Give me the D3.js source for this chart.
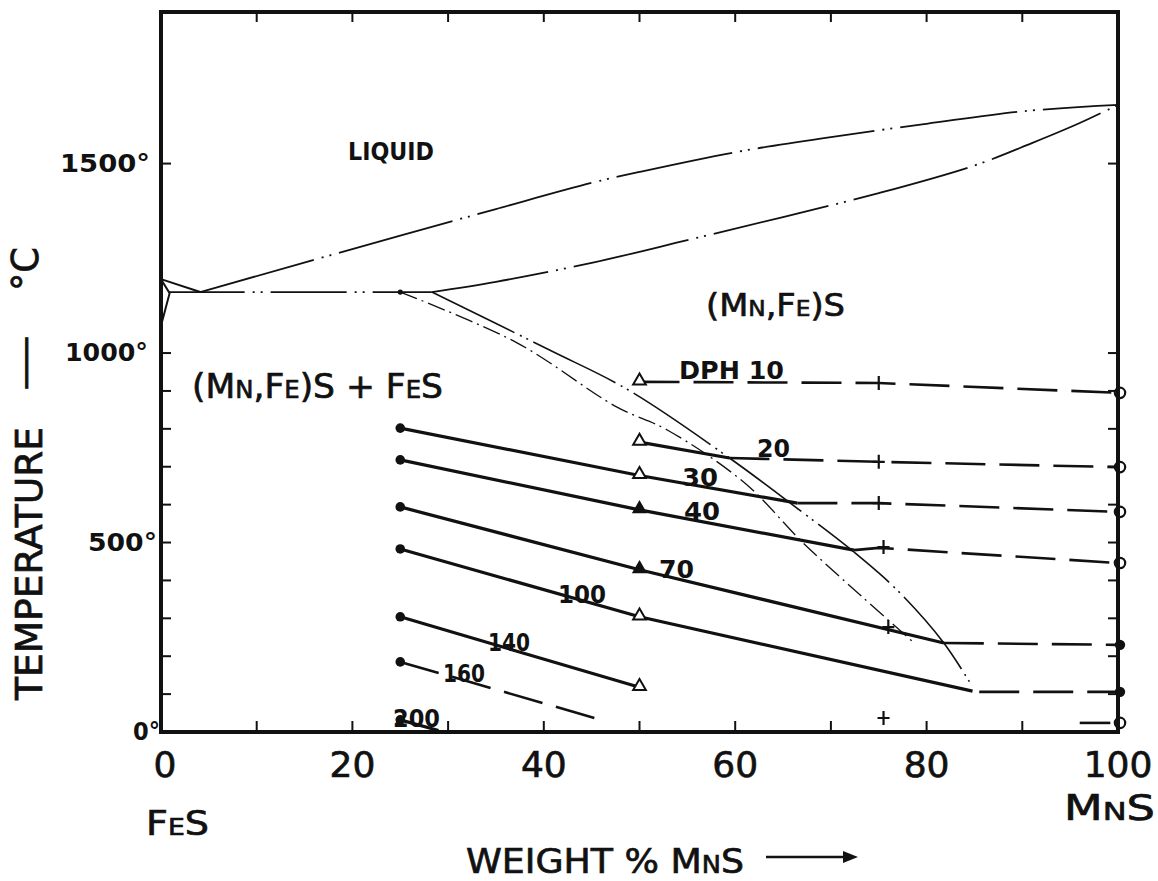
<!DOCTYPE html>
<html><head><meta charset="utf-8">
<script src="https://cdn.jsdelivr.net/npm/d3@7"></script>
<style>body{margin:0;background:#fff}svg{display:block}</style>
</head><body><svg id="c" width="1158" height="881"></svg>
<script>
// ---------- data (weight % MnS, temperature °C) ----------
const xTickLabels = [0, 20, 40, 60, 80, 100];
const xMinorTicks = [10, 20, 30, 40, 50, 60, 70, 80, 90];
const yTickLabels = [0, 500, 1000, 1500];
const yMinorTicks = [100, 200, 300, 400, 500, 600, 700, 800, 900, 1000, 1500];

const liquidusFeS = [[0, 1195], [4.1, 1161]];
const fesSolidus = [[0, 1195], [0.9, 1158], [0, 1072]];
const liquidus = [[4.1, 1161], [25, 1310], [35, 1380], [45, 1449], [50, 1478], [60, 1530], [70, 1570], [80, 1605], [90, 1638], [100, 1655]];
const solidus = [[28.3, 1161], [35, 1188], [45, 1238], [55, 1298], [65, 1359], [75, 1422], [85, 1495], [91, 1554], [96, 1607], [100, 1655]];
const eutectic = [[0.8, 1161], [28.3, 1161]];
const solvusOuter = [[28.3, 1161], [40.6, 1008], [48.8, 903], [59.4, 723], [66.7, 586], [72.4, 475], [76.9, 375], [81.8, 235], [84.8, 119]];
const solvusInner = [[25, 1161], [37.2, 1027], [47.6, 858], [52.9, 797], [61, 657], [67.1, 499], [73.3, 356], [78.7, 235]];

// hardness isolines (DPH)
const dphLabels = ["DPH 10", "20", "30", "40", "70", "100", "140", "160", "200"];
const solidIso = [
  [[50, 765], [59.4, 723]],                  // 20
  [[25, 802], [50, 677], [66.5, 604]],       // 30
  [[25, 718], [50, 586], [72.4, 480]],       // 40
  [[25, 594], [50, 428], [81.8, 235]],       // 70
  [[25, 483], [50, 304], [84.8, 108]],       // 100
  [[25, 304], [50, 118]],                    // 140
  [[25, 32], [29, 4]]                        // 200
];
const dashedIso = [
  [[50, 924], [75, 921], [100, 895]],        // 10
  [[59.4, 723], [75, 713], [100, 699]],      // 20
  [[66.5, 604], [75, 604], [100, 581]],      // 30
  [[72.4, 480], [75, 486], [100, 446]],      // 40
  [[81.8, 235], [100, 230]],                 // 70
  [[85.5, 106], [100, 106]],                 // 100
  [[25, 185], [45.3, 37]]                    // 160
];
const shortDash = [[96, 24], [99.2, 24]];
const dots25 = [802, 718, 594, 483, 304, 185, 32];
const triOpen50 = [924, 765, 677, 304, 118];
const triFilled50 = [586, 428];
const plusMarks = [[75, 921], [75, 713], [75, 604], [75.5, 488], [76, 277], [75.5, 37]];
const circOpen100 = [895, 699, 581, 446, 24];
const circFilled100 = [230, 106];

// ---------- drawing ----------
const svg = d3.select("#c");
svg.append("rect").attr("width", 1158).attr("height", 881).attr("fill", "#fff");
const x = d3.scaleLinear([0, 100], [161, 1118]);
const y = d3.scaleLinear([0, 1900], [732, 12]);
const lin = d3.line().x(d => x(d[0])).y(d => y(d[1]));
const smooth = d3.line().x(d => x(d[0])).y(d => y(d[1])).curve(d3.curveCatmullRom.alpha(0.5));
const g = svg.append("g").attr("fill", "none").attr("stroke", "#111");

const ddd = "118 8 2 6 2 8";
g.append("path").attr("d", lin(liquidusFeS)).attr("stroke-width", 2);
g.append("path").attr("d", lin(fesSolidus)).attr("stroke-width", 2);
g.append("path").attr("d", lin(eutectic)).attr("stroke-width", 1.8).attr("stroke-dasharray", "76 8 2 6 2 8");
g.append("path").attr("d", smooth(liquidus)).attr("stroke-width", 1.8).attr("stroke-dasharray", ddd);
g.append("path").attr("d", smooth(solidus)).attr("stroke-width", 1.8).attr("stroke-dasharray", ddd);
g.append("path").attr("d", smooth(solvusOuter)).attr("stroke-width", 1.6).attr("stroke-dasharray", "92 6 2 5 2 6");
g.append("path").attr("d", smooth(solvusInner)).attr("stroke-width", 1.3).attr("stroke-dasharray", "18 5 2 5");

solidIso.forEach(p => g.append("path").attr("d", lin(p)).attr("stroke-width", 3.2));
dashedIso.forEach(p => g.append("path").attr("d", lin(p)).attr("stroke-width", 2.6).attr("stroke-dasharray", "40 14"));
g.append("path").attr("d", lin(shortDash)).attr("stroke-width", 2.6);

// markers
svg.append("g").selectAll("circle").data(dots25).join("circle")
  .attr("cx", x(25)).attr("cy", d => y(d)).attr("r", 4.8).attr("fill", "#111");
svg.append("circle").attr("cx", x(25)).attr("cy", y(1161)).attr("r", 2.6).attr("fill", "#111");
const tri = d3.symbol(d3.symbolTriangle, 70);
svg.append("g").selectAll("path").data(triOpen50).join("path")
  .attr("d", tri).attr("transform", d => `translate(${x(50)},${y(d) - 1})`)
  .attr("fill", "#fff").attr("stroke", "#111").attr("stroke-width", 2);
svg.append("g").selectAll("path").data(triFilled50).join("path")
  .attr("d", tri).attr("transform", d => `translate(${x(50)},${y(d) - 1})`)
  .attr("fill", "#111").attr("stroke", "#111").attr("stroke-width", 1.5);
svg.append("g").selectAll("path").data(plusMarks).join("path")
  .attr("d", "M-6,0H6M0,-7V7").attr("transform", d => `translate(${x(d[0])},${y(d[1])})`)
  .attr("fill", "none").attr("stroke", "#111").attr("stroke-width", 2.2);

// frame & ticks
svg.append("rect").attr("x", x(0)).attr("y", y(1900)).attr("width", x(100) - x(0)).attr("height", y(0) - y(1900))
  .attr("fill", "none").attr("stroke", "#111").attr("stroke-width", 4);
const tk = svg.append("g").attr("stroke", "#111").attr("stroke-width", 2);
tk.selectAll(".bt").data(xMinorTicks).join("line").attr("x1", d => x(d)).attr("x2", d => x(d)).attr("y1", y(0)).attr("y2", y(0) - 11);
tk.selectAll(".tt").data(xMinorTicks).join("line").attr("x1", d => x(d)).attr("x2", d => x(d)).attr("y1", y(1900)).attr("y2", y(1900) + 10);
tk.selectAll(".lt").data(yMinorTicks).join("line").attr("x1", x(0)).attr("x2", x(0) + 10).attr("y1", d => y(d)).attr("y2", d => y(d));
tk.selectAll(".rt").data(yMinorTicks).join("line").attr("x1", x(100)).attr("x2", x(100) - 10).attr("y1", d => y(d)).attr("y2", d => y(d));

svg.append("g").selectAll("circle").data(circOpen100).join("circle")
  .attr("cx", x(100) + 2).attr("cy", d => y(d)).attr("r", 5.2).attr("fill", "none").attr("stroke", "#111").attr("stroke-width", 2.2);
svg.append("g").selectAll("circle").data(circFilled100).join("circle")
  .attr("cx", x(100) + 2).attr("cy", d => y(d)).attr("r", 5.2).attr("fill", "#111");

// ---------- text ----------
const F = "DejaVu Sans, sans-serif";
function txt(s, px, py, size, opts = {}) {
  const t = svg.append("text").attr("x", px).attr("y", py).attr("font-family", F)
    .attr("font-size", size).attr("fill", "#111").text(s);
  if (opts.weight) t.attr("font-weight", opts.weight);
  if (opts.anchor) t.attr("text-anchor", opts.anchor);
  if (opts.len) t.attr("textLength", opts.len).attr("lengthAdjust", "spacingAndGlyphs");
  if (opts.sc) t.style("font-variant", "small-caps");
  if (opts.tr) t.attr("transform", opts.tr);
  if (opts.heavy) t.attr("stroke", "#111").attr("stroke-width", opts.heavy);
  return t;
}
// y tick labels (scan is slightly skewed, so right edges drift)
const yLabRight = { 0: 160, 500: 157, 1000: 148, 1500: 150 };
const yLabWidth = { 0: 27, 500: 69, 1000: 83, 1500: 90 };
yTickLabels.forEach(v => {
  txt(v + "°", yLabRight[v], y(v) + 8, 24, { weight: "bold", anchor: "end", len: yLabWidth[v] });
});
// x tick labels
xTickLabels.forEach(v => txt(String(v), x(v) + (v === 0 ? 4 : 0), 777, 36, { anchor: "middle", heavy: 0.7 }));

txt("FeS", 146, 835, 33, { sc: true, len: 63, heavy: 0.7 });
txt("MnS", 1064, 820, 35, { sc: true, len: 91, heavy: 0.7 });
txt("WEIGHT % MnS", 466, 873, 34, { sc: true, len: 278, heavy: 0.7 });
svg.append("line").attr("x1", 766).attr("x2", 848).attr("y1", 857).attr("y2", 857).attr("stroke", "#111").attr("stroke-width", 2.5);
svg.append("path").attr("d", "M858,857L843,851L843,863Z").attr("fill", "#111");

txt("TEMPERATURE", 0, 0, 37, { len: 273, tr: "translate(42,700) rotate(-90)", heavy: 0.7 });
txt("—", 0, 0, 37, { len: 56, tr: "translate(37,391) rotate(-90)", heavy: 0.7 });
txt("°C", 0, 0, 37, { len: 44, tr: "translate(38,291) rotate(-90)", heavy: 0.7 });

txt("LIQUID", 348, 160, 24, { weight: "bold", len: 86 });
txt("(Mn,Fe)S", 706, 316, 32, { sc: true, len: 139, heavy: 0.7 });
txt("(Mn,Fe)S + FeS", 192, 398, 34, { sc: true, len: 251, heavy: 0.7 });

const lab = [[679, 379, 105], [757, 457, 33], [682, 486, 36], [684, 520, 36], [659, 578, 35], [558, 603, 48], [488, 651, 42], [443, 682, 42], [393, 727, 47]];
dphLabels.forEach((s, i) => txt(s, lab[i][0], lab[i][1], 24, { weight: "bold", len: lab[i][2] }));
</script></body></html>
